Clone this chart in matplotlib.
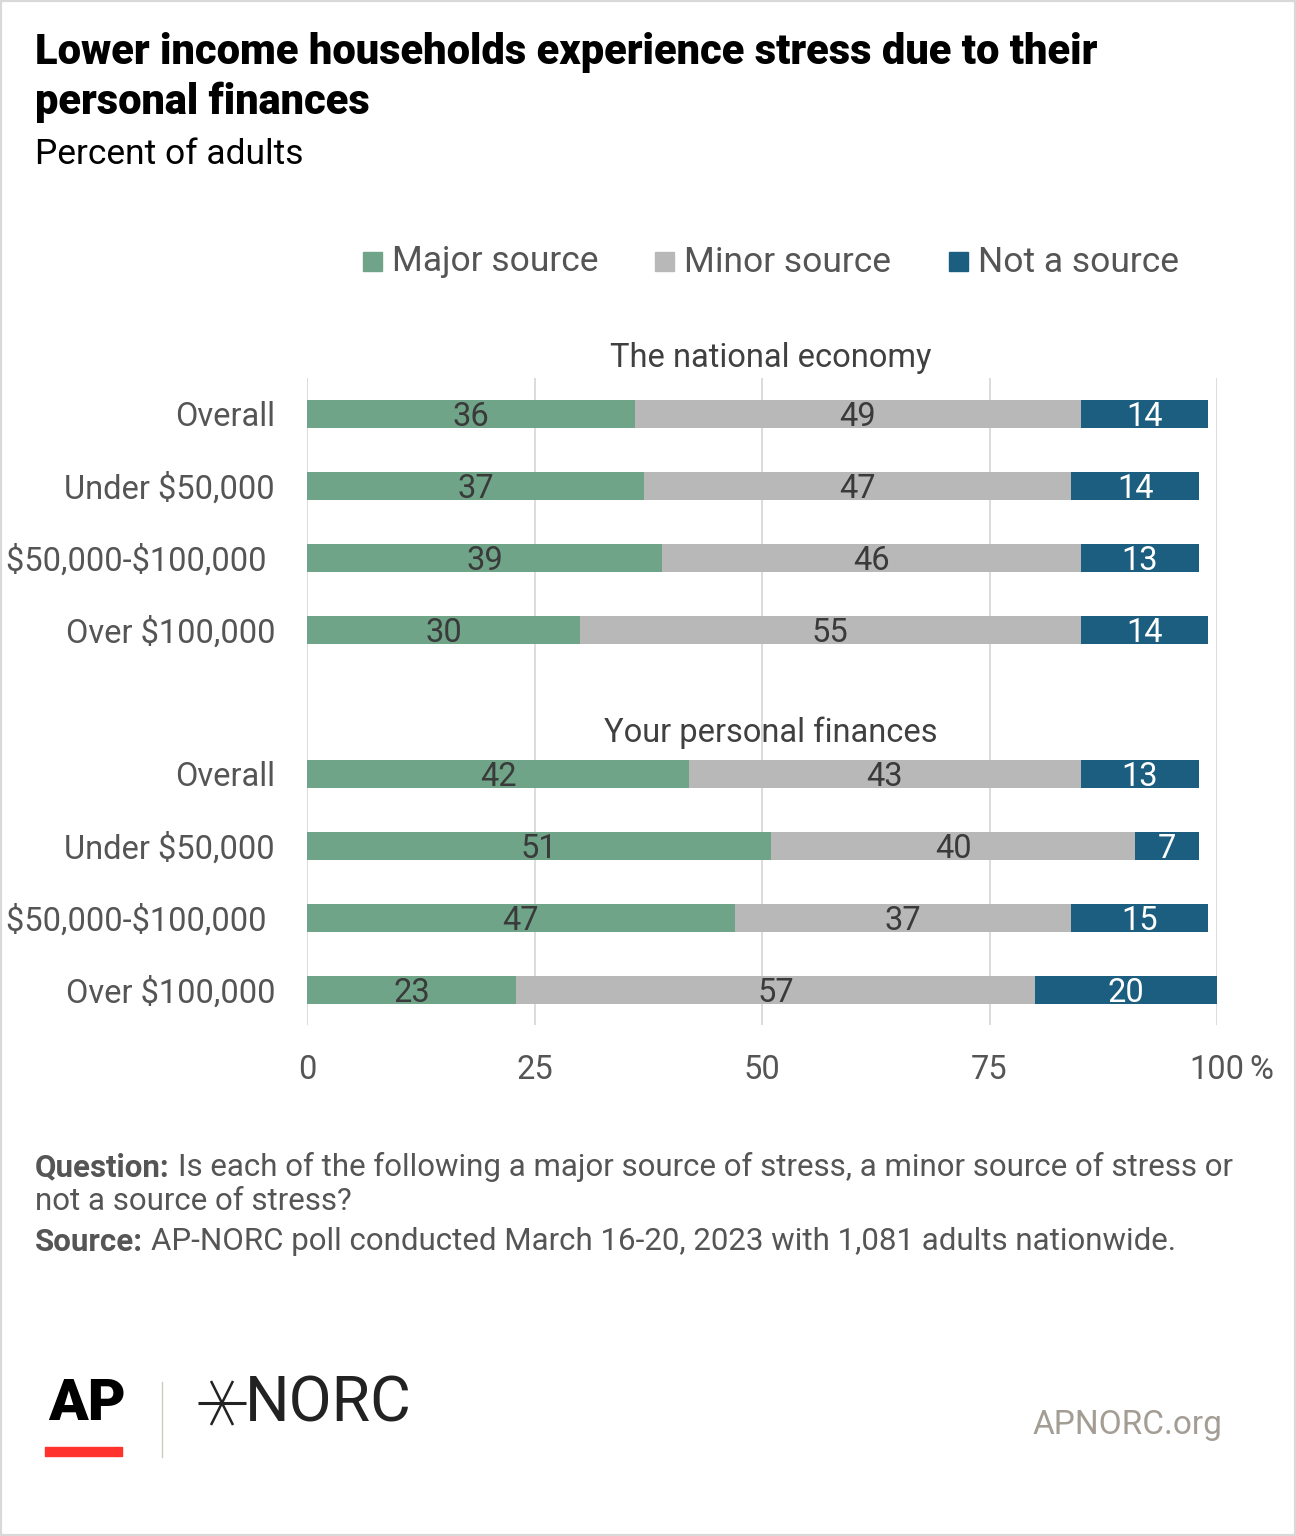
import matplotlib.pyplot as plt
import numpy as np

plt.rcParams['font.family'] = ['Roboto', 'DejaVu Sans']

W, H = 1296, 1536

# data
groups = ["The national economy", "Your personal finances"]
categories = ["Overall", "Under \\$50,000", "\\$50,000-\\$100,000 ", "Over \\$100,000"]
series = ["Major source", "Minor source", "Not a source"]
major = [36, 37, 39, 30, 42, 51, 47, 23]
minor = [49, 47, 46, 55, 43, 40, 37, 57]
not_src = [14, 14, 13, 14, 13, 7, 15, 20]
ticks = [0, 25, 50, 75, 100]

colors = ["#6fa488", "#b8b8b8", "#1b5e80"]
label_colors = ["#3a3a3a", "#3a3a3a", "#ffffff"]
text_grey = "#555555"
fs = 23.5


def px(x, y):
    return x / W, 1 - y / H


fig = plt.figure(figsize=(W / 100, H / 100), dpi=100)
fig.patch.set_facecolor("white")

# frame border
fig.add_artist(plt.Rectangle((0, 0), 1, 1, transform=fig.transFigure,
                             fill=False, edgecolor="#d9d9d9", linewidth=3))

ax = fig.add_axes([307 / W, 1 - 1025 / H, 910 / W, 647 / H])
ypos = np.array([0, 1, 2, 3, 5, 6, 7, 8])
left = np.zeros(len(ypos))
for vals, col, lc in zip([major, minor, not_src], colors, label_colors):
    vals = np.array(vals)
    ax.barh(ypos, vals, left=left, height=0.39, color=col, zorder=3)
    for y, l, v in zip(ypos, left, vals):
        ax.text(l + v / 2, y + 0.045, str(v), ha="center", va="center",
                fontsize=fs, color=lc, zorder=4)
    left = left + vals

ax.set_xlim(0, 100)
ax.set_ylim(8.49, -0.5)
for t in ticks:
    ax.axvline(t, color="#d9d9d9", linewidth=1.3, zorder=1)
for s in ax.spines.values():
    s.set_visible(False)
ax.set_xticks(ticks)
ax.set_xticklabels([str(t) for t in ticks], fontsize=fs, color=text_grey)
ax.tick_params(axis="x", length=0, pad=21)
ax.set_yticks(ypos)
ax.set_yticklabels(categories * 2, fontsize=fs, color=text_grey)
ax.tick_params(axis="y", length=0, pad=23)
ax.annotate("%", xy=(100, 8.49), xycoords="data", xytext=(23, -21),
            textcoords="offset points", ha="left", va="top",
            fontsize=fs, color=text_grey, annotation_clip=False)

# group headers
fig.text(*px(771, 358), groups[0], ha="center", va="center", fontsize=fs, color="#404040")
fig.text(*px(771, 733), groups[1], ha="center", va="center", fontsize=fs, color="#404040")

# title
fig.text(*px(35, 48), "Lower income households experience stress due to their",
         ha="left", va="center_baseline", fontsize=30, fontweight="black", color="black")
fig.text(*px(35, 98), "personal finances", ha="left", va="center_baseline",
         fontsize=30, fontweight="black", color="black")
fig.text(*px(35, 151), "Percent of adults", ha="left", va="center_baseline",
         fontsize=25.5, color="black")

# legend
leg_x = [363, 655, 949]
for lx, name, col in zip(leg_x, series, colors):
    fig.add_artist(plt.Rectangle(px(lx, 271), 19 / W, 19 / H,
                                 transform=fig.transFigure, color=col))
    fig.text(*px(lx + 29, 262), name, ha="left", va="center",
             fontsize=25.5, color=text_grey)

# footer notes
fn = 22.5
fig.text(*px(35, 1167), "Question:", ha="left", va="center", fontsize=fn,
         fontweight="bold", color=text_grey)
fig.text(*px(178, 1167), "Is each of the following a major source of stress, a minor source of stress or",
         ha="left", va="center", fontsize=fn, color=text_grey)
fig.text(*px(35, 1202), "not a source of stress?", ha="left", va="center",
         fontsize=fn, color=text_grey)
fig.text(*px(35, 1242), "Source:", ha="left", va="center", fontsize=fn,
         fontweight="bold", color=text_grey)
fig.text(*px(151, 1242), "AP-NORC poll conducted March 16-20, 2023 with 1,081 adults nationwide.",
         ha="left", va="center", fontsize=fn, color=text_grey)

# logos
fig.text(*px(48, 1404), "AP", ha="left", va="center", fontsize=42,
         fontweight="black", color="black")
fig.add_artist(plt.Rectangle(px(45, 1456), 77 / W, 9 / H,
                             transform=fig.transFigure, color="#ff322e"))
fig.add_artist(plt.Line2D([162 / W, 162 / W], [1 - 1382 / H, 1 - 1457 / H],
                          transform=fig.transFigure, color="#cfcac4", linewidth=1))
# star mark
cx, cy = 222, 1403
for dx, dy, lw in [(-24, 0, 2.2), (24, 0, 2.2), (-11, -22, 1.8), (11, 22, 1.8),
                   (11, -22, 1.8), (-11, 22, 1.8)]:
    fig.add_artist(plt.Line2D([cx / W, (cx + dx) / W], [1 - cy / H, 1 - (cy + dy) / H],
                              transform=fig.transFigure, color="#222222",
                              linewidth=lw, solid_capstyle="butt"))
fig.text(*px(245, 1404), "NORC", ha="left", va="center", fontsize=45,
         color="#222222")
fig.text(*px(1222, 1425), "APNORC.org", ha="right", va="center", fontsize=24,
         color="#a39d94")

fig.savefig("out.png", dpi=100, facecolor="white")
